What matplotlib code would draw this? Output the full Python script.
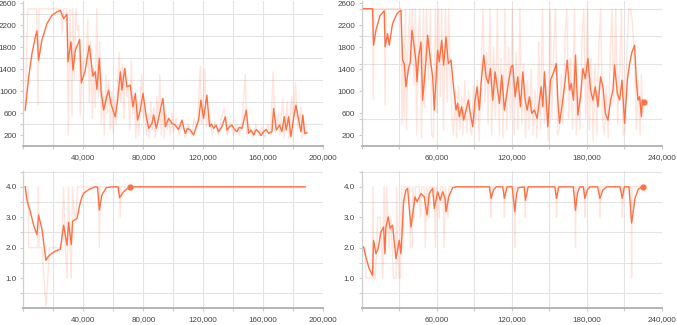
import matplotlib
matplotlib.use("Agg")
import matplotlib.pyplot as plt
from matplotlib.ticker import FixedLocator, FuncFormatter

plt.rcParams['font.family'] = ['Liberation Sans', 'DejaVu Sans']

# === DATA (steps in thousands, value) ===
# top left: episode length
tl_smooth = [(1.3, 655), (3.6, 1260), (5.8, 1685), (8.0, 1987), (9.1, 2096), (10.2, 1564), (12.4, 1927),
             (15.8, 2231), (19.1, 2382), (22.4, 2442), (24.7, 2472), (26.9, 2321), (29.1, 2400), (29.8, 1533),
             (31.8, 1897), (33.1, 1382), (34.7, 1745), (37.6, 1940), (38.7, 1151), (41.3, 1382), (44.0, 1830),
             (46.4, 1273), (48.0, 1351), (49.1, 1031), (50.7, 1594), (52.0, 958), (53.6, 655), (55.3, 867),
             (56.9, 1018), (58.4, 776), (59.8, 655), (61.3, 533), (62.9, 836), (64.7, 1351), (65.8, 1018),
             (67.6, 1412), (69.1, 1078), (71.3, 1109), (73.1, 715), (74.7, 958), (76.2, 473), (78.0, 655),
             (79.8, 958), (82.0, 533), (83.6, 321), (85.8, 412), (86.9, 564), (88.7, 321), (90.9, 594),
             (93.1, 867), (94.7, 352), (96.9, 503), (99.1, 412), (101.3, 382), (103.5, 300), (105.8, 473),
             (107.0, 330), (108.0, 230), (109.5, 320), (111.3, 291), (113.6, 200), (115.3, 352), (116.9, 473),
             (118.4, 836), (120.2, 503), (122.4, 927), (124.2, 352), (125.5, 400), (126.9, 321), (128.5, 380),
             (130.2, 260), (132.4, 352), (134.7, 533), (135.8, 291), (137.5, 350), (139.1, 382), (140.8, 300),
             (142.4, 260), (144.0, 340), (145.8, 321), (148.7, 655), (150.2, 230), (152.0, 290), (153.6, 200),
             (155.2, 300), (156.9, 260), (158.5, 190), (160.2, 260), (162.0, 300), (163.6, 230), (165.8, 260),
             (166.9, 685), (168.7, 291), (170.9, 382), (172.4, 260), (174.0, 533), (175.3, 291), (176.9, 533),
             (178.4, 170), (180.2, 503), (181.8, 745), (183.6, 473), (185.1, 260), (186.4, 564), (187.6, 230),
             (189.1, 242)]
tl_raw = [(1.3, 650), (3.0, 2500), (9.0, 2500), (9.8, 750), (10.5, 2500), (25.0, 2500), (26.0, 2050),
          (27.0, 2500), (29.0, 2500), (30.0, 200), (31.0, 2500), (32.5, 550), (33.0, 2500), (34.0, 1200),
          (35.0, 2500), (36.0, 2100), (37.0, 2200), (38.0, 550), (39.0, 1300), (40.0, 1500), (42.0, 1600),
          (43.0, 2300), (44.0, 800), (45.0, 1900), (46.0, 500), (47.0, 1400), (48.0, 700), (49.0, 2500),
          (50.0, 900), (51.0, 1900), (52.0, 400), (53.0, 1000), (54.0, 200), (55.0, 1300), (56.0, 600),
          (57.0, 1200), (58.0, 300), (59.0, 1000), (60.0, 250), (61.0, 900), (62.0, 400), (63.0, 1200),
          (64.0, 1700), (65.0, 800), (66.0, 1500), (67.0, 500), (68.0, 1400), (69.0, 900), (70.0, 1100),
          (71.0, 300), (72.0, 1550), (73.0, 600), (74.0, 900), (75.0, 150), (76.0, 800), (77.0, 200),
          (78.0, 900), (79.0, 1300), (80.0, 500), (81.0, 700), (82.0, 200), (83.0, 600), (84.0, 150),
          (85.0, 800), (86.0, 300), (87.0, 700), (88.0, 150), (89.0, 900), (90.0, 400), (91.0, 1300),
          (92.0, 200), (93.0, 700), (94.0, 150), (95.0, 600), (96.0, 300), (97.0, 500), (98.0, 200),
          (99.0, 600), (100.0, 250), (102.0, 500), (104.0, 200), (106.0, 400), (108.0, 150), (110.0, 400),
          (112.0, 180), (114.0, 500), (116.0, 300), (118.0, 1450), (119.0, 400), (121.0, 1400), (122.0, 350),
          (124.0, 600), (126.0, 200), (128.0, 450), (130.0, 200), (132.0, 500), (134.0, 700), (136.0, 200),
          (138.0, 450), (140.0, 200), (142.0, 400), (144.0, 200), (146.0, 500), (148.0, 1300), (149.0, 200),
          (151.0, 350), (153.0, 150), (155.0, 400), (157.0, 200), (159.0, 350), (161.0, 150), (163.0, 400),
          (165.0, 200), (166.5, 1350), (168.0, 250), (170.0, 600), (171.0, 200), (173.0, 850), (174.0, 150),
          (176.0, 800), (177.0, 150), (179.0, 900), (180.0, 400), (181.5, 1150), (183.0, 300), (185.0, 700),
          (186.0, 150), (187.0, 450), (188.0, 200), (189.0, 250)]

# top right: episode length
tr_smooth = [(1.6, 2503), (8.8, 2500), (9.6, 1836), (11.5, 2109), (14.9, 2382), (18.1, 2460), (18.9, 1805),
             (20.8, 2049), (22.1, 1836), (24.8, 2231), (28.3, 2412), (31.5, 2472), (32.8, 1564), (34.1, 1503),
             (35.5, 1078), (37.3, 1382), (38.9, 1533), (40.3, 2109), (42.1, 1805), (43.5, 1533), (44.3, 1169),
             (45.6, 1624), (47.5, 1896), (48.8, 836), (51.5, 1564), (52.8, 2018), (54.9, 1594), (56.8, 1260),
             (58.1, 655), (60.8, 1745), (62.1, 1533), (64.0, 1927), (65.6, 1473), (67.5, 1987), (69.3, 1503),
             (71.5, 1564), (73.6, 1049), (75.5, 655), (76.8, 776), (78.1, 533), (80.0, 715), (81.6, 473),
             (83.5, 655), (85.3, 836), (86.9, 594), (88.8, 352), (90.7, 836), (92.3, 1078), (94.1, 655),
             (95.5, 1140), (97.6, 1654), (99.5, 1260), (101.3, 1140), (102.9, 1412), (104.8, 836), (106.7, 1351),
             (108.3, 1078), (110.1, 776), (112.0, 1291), (114.1, 655), (116.8, 1078), (119.5, 1442), (120.8, 1473),
             (122.7, 896), (124.8, 1260), (126.9, 715), (128.8, 1351), (130.7, 836), (132.3, 655), (134.1, 896),
             (136.0, 594), (138.1, 655), (140.3, 503), (142.1, 836), (143.5, 1078), (144.8, 715), (146.1, 1351),
             (147.5, 836), (148.8, 352), (150.9, 1200), (153.6, 1351), (155.5, 1503), (156.8, 836), (158.1, 413),
             (160.0, 715), (162.1, 1078), (164.3, 1564), (166.1, 1018), (167.5, 1140), (169.3, 836), (170.9, 1654),
             (172.8, 564), (174.9, 896), (176.8, 1412), (178.7, 1231), (180.8, 1594), (182.9, 1018), (184.8, 836),
             (186.7, 1078), (188.8, 715), (190.9, 1260), (192.8, 1078), (194.7, 594), (196.8, 473), (198.9, 836),
             (200.8, 1018), (202.1, 1473), (204.3, 958), (206.1, 836), (208.0, 1200), (210.1, 413), (212.3, 1200),
             (214.1, 1503), (216.0, 1714), (218.1, 1836), (219.5, 1169), (220.8, 836), (222.1, 896), (223.5, 533),
             (224.3, 836), (225.6, 806)]
tr_raw = [(1.6, 2500), (8.8, 2500), (9.4, 850), (10.0, 2500), (18.3, 2500), (18.8, 750), (19.5, 2500),
          (31.5, 2500), (32.3, 400), (33.0, 1600), (34.0, 500), (35.0, 2500), (36.0, 300), (37.0, 1800),
          (38.5, 2500), (39.5, 1500), (40.5, 2500), (42.0, 1100), (43.0, 2500), (44.0, 200), (45.5, 2000),
          (46.5, 2500), (48.0, 150), (49.5, 2500), (50.5, 700), (52.0, 2500), (53.5, 1200), (55.0, 2500),
          (56.0, 200), (57.5, 150), (59.0, 2500), (60.5, 600), (61.5, 2500), (63.0, 900), (64.0, 2500),
          (65.5, 300), (67.0, 2500), (68.5, 800), (69.5, 2500), (71.0, 1300), (72.5, 400), (73.5, 200),
          (75.0, 1000), (76.0, 150), (77.5, 1100), (78.5, 300), (80.0, 900), (81.0, 200), (82.5, 1200),
          (84.0, 250), (85.5, 1000), (87.0, 300), (88.0, 200), (89.5, 1100), (91.0, 400), (92.5, 1200),
          (94.0, 100), (95.5, 1300), (97.0, 2500), (98.5, 800), (100.0, 1700), (101.0, 400), (102.5, 2500),
          (104.0, 200), (105.5, 1800), (107.0, 500), (108.5, 2500), (110.0, 200), (111.5, 1600), (113.0, 150),
          (114.5, 2500), (116.0, 300), (117.5, 1800), (119.0, 500), (120.5, 2500), (122.0, 200), (123.5, 1700),
          (125.0, 300), (126.5, 2500), (128.0, 400), (129.5, 1500), (131.0, 150), (132.5, 1200), (134.0, 300),
          (135.5, 1400), (137.0, 200), (138.5, 1000), (140.0, 150), (141.5, 1900), (143.0, 300), (144.5, 2500),
          (146.0, 400), (147.5, 1100), (149.0, 100), (150.5, 2500), (152.0, 500), (153.5, 1800), (155.0, 2500),
          (156.5, 200), (158.0, 300), (159.5, 1300), (161.0, 400), (162.5, 2000), (164.0, 2500), (165.5, 500),
          (167.0, 1600), (168.5, 300), (170.0, 2500), (171.5, 200), (173.0, 1000), (174.5, 300), (176.0, 1900),
          (177.5, 2500), (179.0, 500), (180.5, 2500), (182.0, 300), (183.5, 1600), (185.0, 100), (186.5, 1500),
          (188.0, 200), (189.5, 1800), (191.0, 2500), (192.5, 500), (194.0, 200), (195.5, 1100), (197.0, 150),
          (198.5, 1600), (200.0, 2500), (201.5, 800), (203.0, 2500), (204.5, 400), (206.0, 1300), (207.5, 2500),
          (209.0, 200), (210.5, 300), (212.0, 1700), (213.5, 2500), (215.0, 2500), (216.5, 2200), (218.0, 1600),
          (219.5, 300), (221.0, 1200), (222.5, 200), (223.5, 1300), (224.5, 600), (225.6, 800)]

# bottom left: reward
bl_smooth = [(1.3, 4.0), (2.5, 3.55), (4.7, 3.18), (6.9, 2.74), (9.1, 2.43), (10.2, 3.07), (12.4, 2.63),
             (15.1, 1.58), (16.5, 1.70), (18.0, 1.78), (21.3, 1.88), (24.7, 1.95), (26.9, 2.74), (29.1, 2.08),
             (30.2, 2.83), (32.0, 2.10), (32.9, 2.87), (35.8, 2.96), (37.6, 3.40), (39.1, 3.67), (40.5, 3.80),
             (44.0, 3.92), (48.0, 4.0), (49.5, 3.99), (50.7, 3.23), (52.4, 3.73), (55.3, 3.97), (59.1, 4.0),
             (63.2, 4.0), (64.2, 3.64), (66.9, 3.84), (70.9, 4.0), (188.0, 4.0)]
bl_raw = [(1.3, 4), (3.2, 4), (3.6, 2), (9.5, 2), (10.0, 4), (10.6, 2), (12.5, 2), (15.1, 0), (17.5, 2),
          (25.5, 2), (26.9, 4), (28.0, 2), (29.2, 1), (30.1, 4), (31.2, 2), (32.0, 1), (32.8, 4), (34.0, 3),
          (35.0, 3), (36.3, 4), (50.2, 4), (50.7, 2), (51.2, 4), (64.0, 4), (64.6, 3), (65.2, 4), (188.0, 4)]

# bottom right: reward
br_smooth = [(1.6, 2.02), (3.5, 1.69), (6.1, 1.31), (8.8, 1.09), (9.6, 2.24), (11.5, 1.80), (13.3, 1.97),
             (15.5, 2.52), (17.6, 2.68), (18.7, 1.80), (19.5, 2.68), (21.3, 3.01), (22.9, 2.63), (24.8, 2.74),
             (27.5, 1.64), (30.1, 2.24), (31.5, 1.80), (33.6, 3.51), (35.5, 3.89), (36.8, 3.95), (39.5, 2.68),
             (42.7, 3.67), (44.3, 3.51), (47.5, 3.78), (50.1, 3.67), (52.3, 3.07), (54.1, 3.78), (56.8, 3.95),
             (58.1, 3.29), (60.8, 3.84), (62.9, 3.56), (64.8, 3.84), (66.7, 3.62), (67.5, 3.18), (69.6, 3.67),
             (72.8, 3.97), (75.5, 4.0), (102.1, 4.0), (103.5, 3.62), (105.5, 3.9), (107.5, 4.0), (112.8, 4.0),
             (114.1, 3.62), (116.3, 4.0), (120.3, 4.0), (122.4, 3.18), (123.8, 3.75), (125.1, 3.97), (129.9, 4.0),
             (130.9, 3.56), (133.1, 4.0), (154.4, 4.0), (155.7, 3.62), (157.6, 4.0), (169.1, 4.0), (170.9, 3.23),
             (172.5, 3.8), (174.4, 4.0), (177.1, 4.0), (178.4, 3.62), (180.4, 3.9), (182.4, 4.0), (188.5, 4.0),
             (190.4, 3.62), (192.8, 3.9), (195.7, 4.0), (206.4, 4.0), (208.3, 3.62), (209.9, 4.0), (213.6, 4.0),
             (215.7, 2.81), (218.4, 3.62), (221.1, 3.93), (224.5, 4.0)]
br_raw = [(1.6, 2), (3.0, 2), (3.5, 1), (8.5, 1), (9.2, 4), (9.8, 1), (11.0, 1), (12.0, 2), (13.0, 3),
          (15.0, 3), (16.0, 2), (17.0, 1), (18.0, 4), (19.0, 2), (20.0, 4), (21.0, 3), (22.0, 2), (23.5, 3),
          (24.5, 2), (25.5, 1), (27.5, 1), (28.0, 4), (29.0, 2), (30.0, 1), (31.0, 1), (32.0, 4), (33.0, 2),
          (34.0, 4), (38.0, 4), (39.0, 2), (40.5, 2), (41.0, 4), (42.0, 3), (43.0, 4), (46.0, 4), (47.0, 3),
          (48.0, 4), (50.0, 4), (51.0, 2), (52.0, 4), (54.0, 3), (55.0, 4), (58.0, 4), (59.0, 2), (60.0, 4),
          (62.0, 3), (63.0, 4), (65.0, 4), (66.0, 2), (67.0, 4), (69.0, 3), (70.0, 4), (103.0, 4), (103.5, 3),
          (104.0, 4), (113.6, 4), (114.1, 3), (114.6, 4), (121.9, 4), (122.4, 2), (122.9, 4), (130.4, 4),
          (130.9, 3), (131.4, 4), (155.2, 4), (155.7, 3), (156.2, 4), (170.4, 4), (170.9, 2), (171.4, 4),
          (177.9, 4), (178.4, 3), (178.9, 4), (189.9, 4), (190.4, 3), (190.9, 4), (207.8, 4), (208.3, 3),
          (208.8, 4), (215.2, 4), (215.7, 1), (216.2, 4), (224.5, 4)]

# === STYLE ===
ORANGE = "#ff7043"
GRID = "#e3e3e3"
TEXT = "#444444"


def xy(points):
    xs = [p[0] * 1000 for p in points]
    ys = [p[1] for p in points]
    return xs, ys


def style(ax, xmax, xstep, xlab_step, ylim, ylabels, ygrid, yfmt):
    ax.set_xlim(0, xmax)
    ax.set_ylim(*ylim)
    xt = list(range(0, xmax + 1, xstep))
    ax.xaxis.set_major_locator(FixedLocator(xt))
    ax.xaxis.set_major_formatter(FuncFormatter(
        lambda v, p: f"{int(round(v)):,}" if v > 0 and int(round(v)) % xlab_step == 0 else ""))
    ax.yaxis.set_major_locator(FixedLocator(ylabels))
    ax.yaxis.set_major_formatter(FuncFormatter(lambda v, p: yfmt.format(v)))
    ax.yaxis.set_minor_locator(FixedLocator(ygrid))
    ax.xaxis.grid(True, which="major", color=GRID, lw=0.8)
    ax.yaxis.grid(True, which="minor", color=GRID, lw=0.8)
    ax.yaxis.grid(False, which="major")
    ax.set_axisbelow(True)
    for s in ("top", "right"):
        ax.spines[s].set_visible(False)
    ax.spines["bottom"].set_color("#b5b5b5")
    ax.spines["bottom"].set_linewidth(1.4)
    ax.spines["left"].set_color("#cfcfcf")
    ax.spines["left"].set_linewidth(0.9)
    ax.tick_params(axis="x", which="major", length=2.5, width=0.8, color="#cccccc",
                   labelsize=5.8, labelcolor=TEXT, pad=3.0)
    ax.tick_params(axis="y", which="both", length=2.5, width=0.8, color="#cccccc",
                   labelsize=5.8, labelcolor=TEXT, pad=2.3)
    ax.set_facecolor("white")


fig = plt.figure(figsize=(6.77, 3.25), dpi=100)
ax_tl = fig.add_axes([0.0344, 0.5508, 0.4431, 0.4475])
ax_tr = fig.add_axes([0.5340, 0.5508, 0.4439, 0.4475])
ax_bl = fig.add_axes([0.0344, 0.0508, 0.4431, 0.4230])
ax_br = fig.add_axes([0.5340, 0.0508, 0.4439, 0.4230])

panels = [
    (ax_tl, tl_raw, tl_smooth, None),
    (ax_tr, tr_raw, tr_smooth, tr_smooth[-1]),
    (ax_bl, bl_raw, bl_smooth, bl_smooth[-2]),
    (ax_br, br_raw, br_smooth, br_smooth[-1]),
]
for ax, raw, smooth, dot in panels:
    rx, ry = xy(raw)
    sx, sy = xy(smooth)
    ax.plot(rx, ry, color=ORANGE, alpha=0.18, lw=1.0, zorder=2)
    ax.plot(sx, sy, color=ORANGE, lw=1.0, zorder=3)
    if dot is not None:
        dx, dy = xy([dot])
        ax.plot(dx, dy, "o", color=ORANGE, ms=3.5, zorder=4)

len_labels = list(range(200, 2601, 400))
style(ax_tl, 200000, 20000, 40000, (0, 2650), len_labels, list(range(200, 2601, 200)), "{:.0f}")
style(ax_tr, 240000, 30000, 60000, (0, 2650), len_labels, list(range(500, 2501, 500)), "{:.0f}")
rew_labels = [1.0, 2.0, 3.0, 4.0]
rew_grid = [0.5 * i for i in range(1, 10)]
style(ax_bl, 200000, 20000, 40000, (0, 4.52), rew_labels, rew_grid, "{:.1f}")
style(ax_br, 240000, 30000, 60000, (0, 4.52), rew_labels, rew_grid, "{:.1f}")

fig.savefig("out.png", dpi=100, facecolor="white")
